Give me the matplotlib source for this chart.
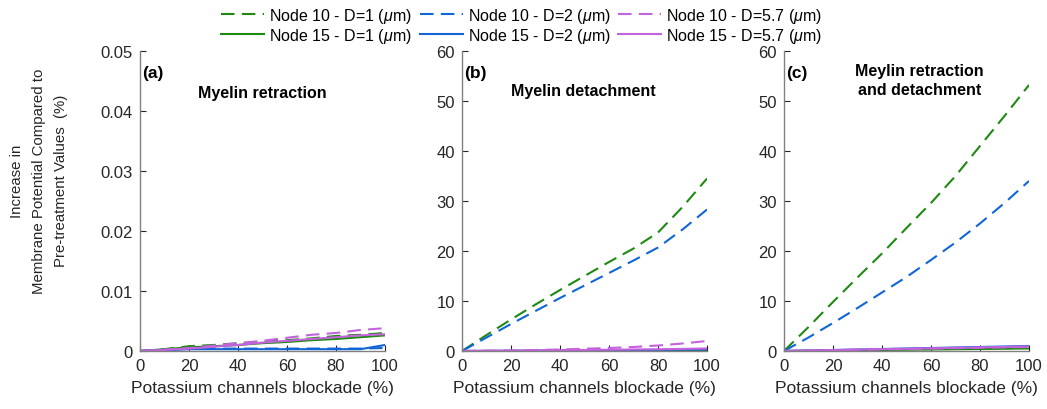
import matplotlib
matplotlib.use("Agg")
import matplotlib.pyplot as plt
import numpy as np

plt.rcParams['font.family'] = ['Liberation Sans', 'DejaVu Sans']
plt.rcParams['mathtext.fontset'] = 'custom'
plt.rcParams['mathtext.it'] = 'Liberation Sans:italic'
plt.rcParams['mathtext.rm'] = 'Liberation Sans'

# potassium channel blockade (%)
blockade = [0, 10, 20, 30, 40, 50, 60, 70, 80, 90, 100]

# (a) myelin retraction
a_n10_d1 = [0, 0.0003, 0.0008, 0.0010, 0.0013, 0.0015, 0.0018, 0.0021, 0.0025, 0.0027, 0.0030]
a_n15_d1 = [0, 0.0003, 0.0006, 0.0008, 0.0010, 0.0013, 0.0015, 0.0018, 0.0020, 0.0023, 0.0026]
a_n10_d2 = [0, 0.0002, 0.0004, 0.0004, 0.0004, 0.0004, 0.0004, 0.0004, 0.0004, 0.0004, 0.0005]
a_n15_d2 = [0, 0.0001, 0.0003, 0.0003, 0.0003, 0.0003, 0.0003, 0.0003, 0.0003, 0.0003, 0.0010]
a_n10_d57 = [0, 0.0002, 0.0005, 0.0009, 0.0013, 0.0017, 0.0022, 0.0027, 0.0030, 0.0035, 0.0038]
a_n15_d57 = [0, 0.0002, 0.0004, 0.0007, 0.0010, 0.0014, 0.0017, 0.0020, 0.0023, 0.0026, 0.0028]

# (b) myelin detachment
b_n10_d1 = [0, 3.2, 6.3, 9.3, 12.2, 15.0, 17.8, 20.5, 23.7, 28.8, 34.5]
b_n15_d1 = [0, 0.01, 0.02, 0.04, 0.06, 0.08, 0.10, 0.12, 0.14, 0.17, 0.20]
b_n10_d2 = [0, 2.7, 5.4, 8.0, 10.6, 13.1, 15.6, 18.1, 20.7, 24.3, 28.3]
b_n15_d2 = [0, 0.02, 0.04, 0.07, 0.10, 0.13, 0.16, 0.19, 0.22, 0.26, 0.30]
b_n10_d57 = [0, 0.05, 0.10, 0.20, 0.30, 0.45, 0.60, 0.80, 1.10, 1.50, 2.00]
b_n15_d57 = [0, 0.03, 0.06, 0.10, 0.15, 0.20, 0.25, 0.30, 0.35, 0.42, 0.50]

# (c) myelin retraction and detachment
c_n10_d1 = [0, 4.8, 9.8, 14.7, 19.5, 24.6, 29.6, 35.0, 41.0, 47.0, 53.2]
c_n15_d1 = [0, 0.05, 0.1, 0.15, 0.2, 0.25, 0.3, 0.35, 0.4, 0.45, 0.5]
c_n10_d2 = [0, 2.7, 5.6, 8.6, 11.7, 14.8, 18.2, 21.7, 25.5, 29.6, 34.0]
c_n15_d2 = [0, 0.1, 0.2, 0.3, 0.4, 0.5, 0.6, 0.7, 0.8, 0.9, 1.0]
c_n10_d57 = [0, 0.08, 0.16, 0.24, 0.32, 0.40, 0.48, 0.56, 0.64, 0.72, 0.80]
c_n15_d57 = [0, 0.09, 0.18, 0.27, 0.36, 0.45, 0.54, 0.63, 0.72, 0.81, 0.90]

panels = [
    ("(a)", "Myelin retraction", (0.50, 0.86), 0.05, 0.01, "%g",
     [a_n10_d1, a_n15_d1, a_n10_d2, a_n15_d2, a_n10_d57, a_n15_d57]),
    ("(b)", "Myelin detachment", (0.496, 0.867), 60, 10, "%d",
     [b_n10_d1, b_n15_d1, b_n10_d2, b_n15_d2, b_n10_d57, b_n15_d57]),
    ("(c)", "Meylin retraction\nand detachment", (0.553, 0.903), 60, 10, "%d",
     [c_n10_d1, c_n15_d1, c_n10_d2, c_n15_d2, c_n10_d57, c_n15_d57]),
]

labels = ["Node 10 - D=1 ($\\mu$m)", "Node 15 - D=1 ($\\mu$m)",
          "Node 10 - D=2 ($\\mu$m)", "Node 15 - D=2 ($\\mu$m)",
          "Node 10 - D=5.7 ($\\mu$m)", "Node 15 - D=5.7 ($\\mu$m)"]
colors = ["#1e8a12", "#1e8a12", "#1166d6", "#1166d6", "#c463dd", "#c463dd"]
dash = (0, (6.5, 3.5))
styles = [dash, "-", dash, "-", dash, "-"]

fig = plt.figure(figsize=(10.47, 4.10), dpi=100)
lefts = [0.1337, 0.4413, 0.7488]
axes = []
for left, (tag, title, tpos, ymax, ystep, fmt, series) in zip(lefts, panels):
    ax = fig.add_axes([left, 0.1415, 0.234, 0.7317])
    handles = []
    for ys, c, ls, lab in zip(series, colors, styles, labels):
        h, = ax.plot(blockade, ys, color=c, linestyle=ls, lw=1.5, label=lab)
        handles.append(h)
    ax.set_xlim(0, 100)
    ax.set_ylim(0, ymax)
    ax.set_xticks(np.arange(0, 101, 20))
    ax.set_yticks(np.arange(0, ymax + ystep / 2, ystep))
    ax.yaxis.set_major_formatter(matplotlib.ticker.FormatStrFormatter(fmt))
    for s in ["top", "right"]:
        ax.spines[s].set_visible(False)
    for s in ["left", "bottom"]:
        ax.spines[s].set_color("#808080")
        ax.spines[s].set_linewidth(1.0)
    ax.tick_params(direction="in", length=4, color="#262626", labelsize=12,
                   labelcolor="#262626", pad=5)
    ax.set_xlabel("Potassium channels blockade (%)", fontsize=12.5, color="#262626", labelpad=5)
    ax.text(0.01, 0.928, tag, transform=ax.transAxes, fontsize=12.5,
            fontweight="bold", ha="left", va="center")
    ax.text(tpos[0], tpos[1], title, transform=ax.transAxes, fontsize=11.5,
            fontweight="bold", ha="center", va="center", linespacing=1.3)
    axes.append(ax)

# shared y label, three lines, left of panel (a)
fig.text(39 / 1047, 1 - 181 / 410,
         "Increase in\nMembrane Potential Compared to\nPre-treatment Values  (%)",
         rotation=90, ha="center", va="center", fontsize=10.8, color="#262626",
         linespacing=1.75, multialignment="center")

fig.legend(handles, labels, loc="upper left", bbox_to_anchor=(221 / 1047, 1 - 7 / 410), ncol=3,
           frameon=False, fontsize=11.5, handlelength=2.7, handletextpad=0.3,
           columnspacing=0.5, labelspacing=0.06, borderpad=0.0, borderaxespad=0.0)

fig.savefig("out.png", dpi=100)
